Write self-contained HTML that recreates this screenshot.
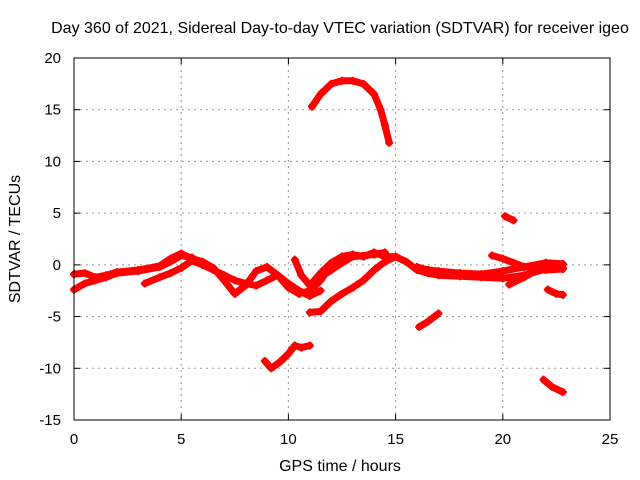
<!DOCTYPE html>
<html><head><meta charset="utf-8"><style>
body{margin:0;background:#fff}
svg{display:block;font-family:"Liberation Sans",sans-serif}
</style></head><body>
<svg id="chart" width="640" height="480">
<text x="340" y="33" font-size="16" text-anchor="middle">Day 360 of 2021, Sidereal Day-to-day VTEC variation (SDTVAR) for receiver igeo</text>
<text x="340" y="471" font-size="16" text-anchor="middle">GPS time / hours</text>
<text x="20" y="239" font-size="16" text-anchor="middle" transform="rotate(-90 20 239)">SDTVAR / TECUs</text>
<g id="grid"></g><g id="marks"></g>
<rect x="74" y="58" width="536" height="362" fill="none" stroke="#000" stroke-width="1"/>
<g id="ticks"></g>
</svg>
<script>
const xTicks=[0,5,10,15,20,25];
const yTicks=[-15,-10,-5,0,5,10,15,20];
const track1=[[0,-2.4],[0.5,-1.8],[1,-1.5],[1.5,-1.2],[2,-0.8],[3,-0.6],[4,-0.2],[4.5,0.3],[5,0.9],[5.5,0.7],[6,0],[6.5,-0.5],[7,-1],[7.5,-1.5],[8,-1.8],[8.5,-2],[9,-1.5],[9.5,-1],[10,-1.8],[10.5,-2.5],[11,-3],[11.5,-2.5]];
const track2=[[0,-0.9],[0.5,-0.8],[1,-1.2],[1.5,-1],[2,-0.7],[3,-0.5],[4,-0.1],[4.5,0.6],[5,1.1],[5.5,0.6],[6,0.3],[6.5,-0.3],[7,-1.5],[7.5,-2.8],[8,-2],[8.5,-0.6],[9,-0.2],[9.5,-1],[10,-2.2],[10.5,-2.8],[11,-2.5],[11.5,-1.2],[12,-0.5],[12.5,0.2],[13,0.8],[14,1],[14.5,1.2]];
const track3=[[3.3,-1.8],[4,-1.2],[4.5,-0.8],[5,-0.3],[5.5,0.4],[6,0]];
const track4=[[10.3,0.5],[10.6,-1],[11,-2],[11.5,-0.8],[12,0.2],[12.5,0.8],[13,1],[13.5,0.8],[14,1.2],[14.5,0.8],[15,0.8],[15.5,0.3],[16,-0.5],[16.5,-0.8],[17,-1],[18,-1.1],[19,-1.2],[20,-1.3],[21,-1],[22,-0.4],[22.8,-0.3]];
const track5=[[11,-4.6],[11.5,-4.5],[12,-3.5],[12.5,-2.8],[13,-2.2],[13.5,-1.5],[14,-0.5],[14.5,0.3],[15,0.8]];
const track6=[[11,-2.5],[11.5,-1.5],[12,0],[12.5,0.8],[13,1]];
const track7=[[16,-0.2],[16.5,-0.5],[17,-0.6],[18,-0.8],[19,-0.9],[20,-0.6],[21,-0.2],[22,0.2],[22.8,0.1]];
const track8=[[19.5,0.9],[20,0.6],[20.5,0.2],[21,-0.2],[21.5,-0.3],[22,-0.5],[22.8,-0.4]];
const track9=[[20.3,-1.9],[21,-1.2],[21.5,-0.6],[22,-0.2],[22.8,0]];
const trackArc=[[11.1,15.3],[11.5,16.5],[12,17.5],[12.5,17.8],[13,17.8],[13.5,17.5],[14,16.5],[14.3,15],[14.5,13.5],[14.7,11.8]];
const track11=[[20.1,4.7],[20.5,4.3]];
const track12=[[16.1,-6],[16.5,-5.5],[17,-4.7]];
const track13=[[22.1,-2.4],[22.5,-2.8],[22.8,-2.9]];
const track14=[[21.9,-11.1],[22.3,-11.8],[22.8,-12.3]];
const track15=[[8.9,-9.3],[9.2,-10],[9.6,-9.4],[10,-8.6],[10.3,-7.8],[10.6,-8],[11,-7.8]];
const tracks=[track1,track2,track3,track4,track5,track6,track7,track8,track9,trackArc,track11,track12,track13,track14,track15];
const NS="http://www.w3.org/2000/svg";
const X0=74,X1=610,Y0=420,Y1=58;
function sx(v){return X0+(v-0)/(25-0)*(X1-X0);}
function sy(v){return Y0-(v+15)/(20+15)*(Y0-Y1);}
const grid=document.getElementById('grid'),tk=document.getElementById('ticks'),marks=document.getElementById('marks');
function mk(tag,at,parent){const e=document.createElementNS(NS,tag);for(const k in at)e.setAttribute(k,at[k]);parent.appendChild(e);return e;}
xTicks.forEach(t=>{const x=sx(t);
 if(t>0&&t<25){const g=mk('line',{x1:x,y1:Y0,x2:x,y2:Y1,stroke:'#999','stroke-dasharray':'2,4'},grid);
 
 }
 const l=mk('text',{x:x,y:Y0+24,'font-size':15,'text-anchor':'middle'},tk);l.textContent=t;
 
 
 mk('line',{x1:x,y1:Y0,x2:x,y2:Y0-6,stroke:'#000'},tk);mk('line',{x1:x,y1:Y1,x2:x,y2:Y1+6,stroke:'#000'},tk);});
yTicks.forEach(t=>{const y=sy(t);
 if(t>-15&&t<20){const g=mk('line',{x1:X0,y1:y,x2:X1,y2:y,stroke:'#999','stroke-dasharray':'2,4'},grid);
 
 }
 const l=mk('text',{x:X0-13,y:y+5,'font-size':15,'text-anchor':'end'},tk);l.textContent=t;
 
 
 mk('line',{x1:X0,y1:y,x2:X0+6,y2:y,stroke:'#000'},tk);mk('line',{x1:X1,y1:y,x2:X1-6,y2:y,stroke:'#000'},tk);});
tracks.forEach((tr,i)=>{
 const p=mk('polyline',{points:tr.map(d=>sx(d[0])+','+sy(d[1])).join(' '),fill:'none',stroke:'#f00','stroke-width':7,'stroke-linejoin':'round','stroke-linecap':'round'},marks);
 
 
 tr.forEach(d=>{const x=sx(d[0]),y=sy(d[1]);
  const m=mk('path',{d:`M${x-4},${y}H${x+4}M${x},${y-4}V${y+4}`,stroke:'#f00','stroke-width':2},marks);
  
  });
});
</script>
</body></html>
